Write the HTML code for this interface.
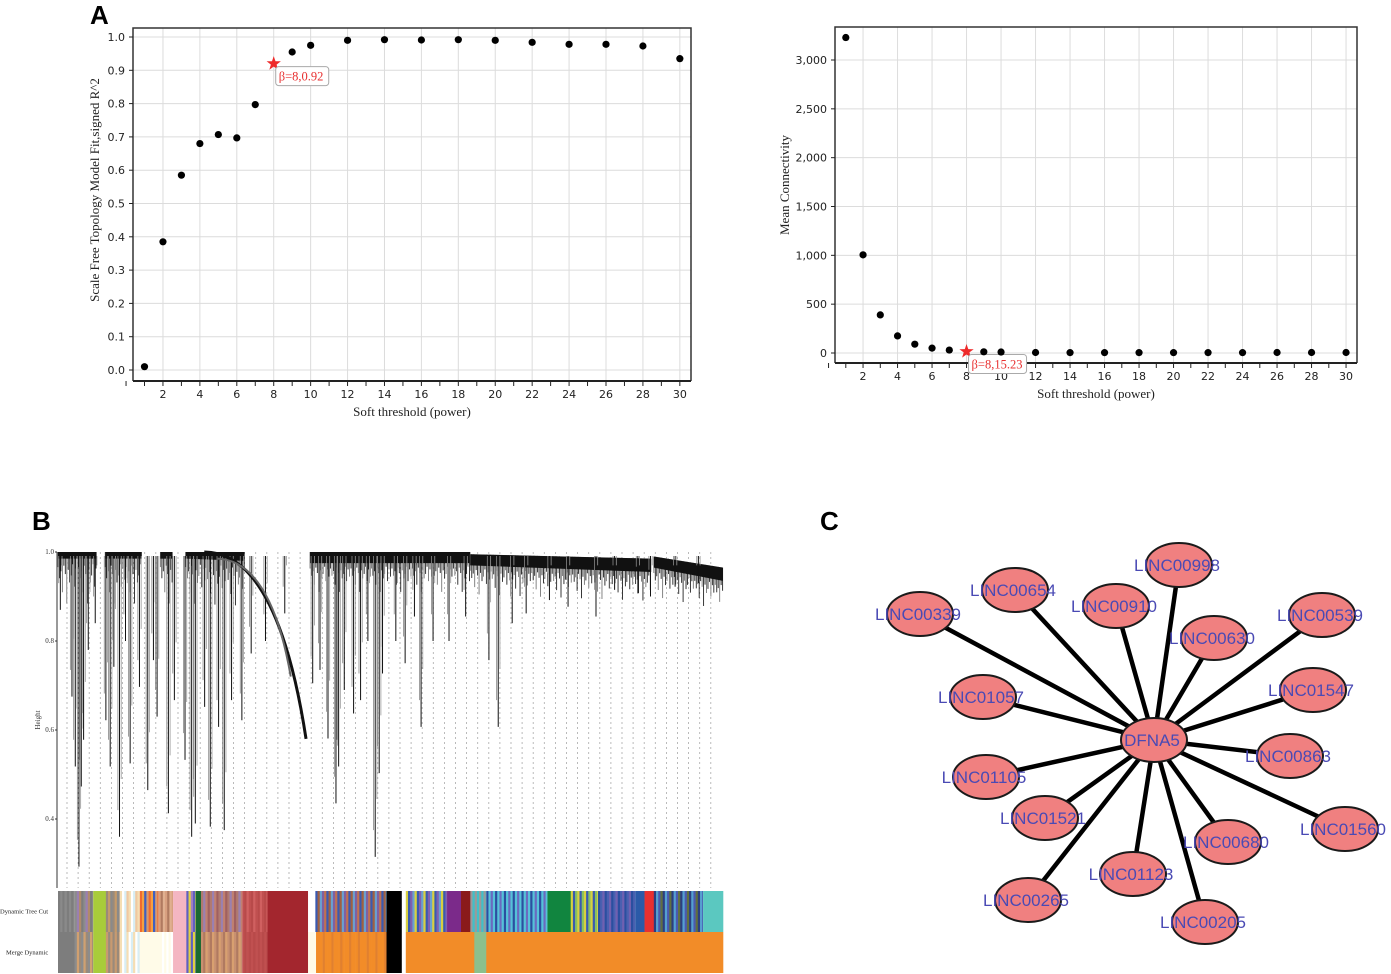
<!DOCTYPE html>
<html><head><meta charset="utf-8"><style>
html,body{margin:0;padding:0;background:#fff;}
svg{display:block;}
.tick{font-family:"DejaVu Sans","Liberation Sans",sans-serif;font-size:11px;fill:#222;}
.ttl{font-family:"Liberation Serif",serif;font-size:13px;fill:#222;}
.plab{font-family:"Liberation Sans",sans-serif;font-size:26px;font-weight:bold;fill:#000;}
.node{font-family:"Liberation Sans",sans-serif;font-size:17px;fill:#4a4ab4;}
</style></head><body>
<svg id="fig" width="1391" height="974" viewBox="0 0 1391 974" xmlns="http://www.w3.org/2000/svg">
<text class="plab" x="90" y="24">A</text>
<text class="plab" x="32" y="530">B</text>
<text class="plab" x="820" y="530">C</text>
</svg>
<script>
const sftPowers=[1,2,3,4,5,6,7,8,9,10,12,14,16,18,20,22,24,26,28,30];
const sftR2=[0.01,0.385,0.585,0.68,0.707,0.697,0.797,0.92,0.955,0.975,0.99,0.992,0.991,0.992,0.99,0.984,0.978,0.978,0.973,0.935];
const connValues=[3230,1005,390,175,90,50,30,15.23,12,10,5,4,4,4,4,4,4,5,5,5];
const xTickVals=[2,4,6,8,10,12,14,16,18,20,22,24,26,28,30];
const r2Ticks=[0,0.1,0.2,0.3,0.4,0.5,0.6,0.7,0.8,0.9,1.0];
const connTicks=[0,500,1000,1500,2000,2500,3000];
const heightTicks=[0.4,0.6,0.8,1.0];
const leafPos=[0.35,2.1,2.6,3.15,3.5,3.85,4.55,5.6,7.2,7.85,8.4,9.25,10.15,10.85,12.25,13.5,14.35,14.9,16.6,17.5,19.1,20.1,20.65,22.05,22.9,24.15,25.0,26.1,27.65,29.05,31.2,34.1,38.3,39.4,40.6,41.8,42.2,43.05,44.45,45.5,46.6,47.7,48.3,48.8,50.8,52.2,53.6,54.6,56.4,58.8,61.3,64.8,66.2,68.3,70.4,73.9,76.7,80.9,83.7,87.2,89.1,92.8,96.3];
const leafHeight=[.87,.675,.518,.293,.473,.578,.78,.84,.622,.518,.742,.36,.80,.525,.697,.465,.757,.63,.413,.667,.533,.36,.39,.652,.383,.607,.375,.667,.622,.772,.80,.862,.705,.735,.581,.435,.518,.69,.637,.667,.80,.315,.503,.727,.80,.75,.855,.607,.80,.80,.855,.757,.607,.84,.862,.892,.877,.855,.915,.907,.9,.922,.93];
const treeCutSegs=[[0,2.5,['#7d7d7d','#8a8a8a']],[2.5,5.3,['#8c8c8c','#9a7fb0','#b08a6a','#7d7d7d']],[5.3,7.2,['#a8cc3a']],[7.2,9.3,['#9a8a7a','#c49a6a','#8a8a8a']],[9.3,12.3,['#f5deb3','#ffffff','#d8eef4','#f0c8a0']],[12.3,15.1,['#f06a30','#f5a040','#4060c0','#d89a70']],[15.1,17.3,['#d8a080','#b07a60','#e0b090']],[17.3,19.3,['#f4b6c2']],[19.3,20.7,['#6060c0','#e0d040','#a080c0']],[20.7,21.5,['#1a6a30']],[21.5,27.7,['#b07a70','#9a80b0','#c08070','#a06060']],[27.7,31.5,['#c05050','#b84a4a','#d06060']],[31.5,37.6,['#a3262e']],[37.6,38.7,['#ffffff']],[38.7,49.4,['#3a5ab0','#a06040','#6aa0d0','#8060a0','#c07050']],[49.4,51.7,['#000000']],[51.7,52.3,['#ffffff']],[52.3,58.5,['#d8d040','#3a5ab0','#8060b0','#6aa0d0']],[58.5,60.6,['#7b2a8a']],[60.6,62.0,['#8a1a1a']],[62.0,64.4,['#9a9a9a','#40c0c8']],[64.4,73.6,['#2b4fa0','#55c2d8','#6a6ac0','#55c2d8']],[73.6,77.1,['#11853f']],[77.1,81.2,['#d8d040','#3a5ab0','#88c060']],[81.2,86.8,['#2b4fa0','#4a60b0','#7060b0']],[86.8,88.2,['#2b5aa8']],[88.2,89.6,['#e83030']],[89.6,97.0,['#2b3f80','#55a0d0','#4a5ab0','#607040']],[97.0,100,['#5bc8c0']]];
const mergeSegs=[[0,2.5,['#7d7d7d']],[2.5,5.3,['#8c8c8c','#d0a070','#9a8a7a']],[5.3,7.2,['#a8cc3a']],[7.2,9.3,['#c89a70','#9a8a7a']],[9.3,12.3,['#f5deb3','#ffffff','#d8eef4']],[12.3,15.3,['#fffbe8']],[15.3,17.3,['#fffbe8','#ffffff']],[17.3,19.3,['#f4b6c2']],[19.3,20.7,['#6060c0','#e0d040']],[20.7,21.5,['#1a6a30']],[21.5,27.7,['#c89070','#b07a60','#d8a070']],[27.7,31.5,['#c05050','#b84a4a']],[31.5,37.6,['#a3262e']],[37.6,38.8,['#fffbe8']],[38.8,49.4,['#f28c28','#f28c28','#f28c28','#e08030']],[49.4,51.7,['#000000']],[51.7,52.3,['#ffffff']],[52.3,62.6,['#f28c28']],[62.6,64.4,['#8cc08c']],[64.4,100,['#f28c28']]];
const nodeNames=['LINC00998','LINC00654','LINC00339','LINC00910','LINC00630','LINC00539','LINC01547','LINC01057','LINC00863','LINC01105','LINC01521','LINC01560','LINC00680','LINC01123','LINC00265','LINC00205'];
const nodeX=[1179,1015,920,1116,1214,1322,1313,983,1290,986,1045,1345,1228,1133,1028,1205];
const nodeY=[565,590,614,606,638,615,690,697,756,777,818,829,842,874,900,922];

const NS='http://www.w3.org/2000/svg';
const svg=document.getElementById('fig');
function mk(tag,attrs,parent){const e=document.createElementNS(NS,tag);for(const k in attrs)e.setAttribute(k,attrs[k]);(parent||svg).appendChild(e);return e;}
function fmt(v){return v.toLocaleString('en-US');}

function scatterPanel(cfg){
  const g=mk('g',{});
  
  
  xTickVals.forEach(v=>{const l=mk('line',{x1:cfg.x(v),x2:cfg.x(v),y1:cfg.top,y2:cfg.bottom,stroke:'#dcdcdc','stroke-width':1},g);
    
    });
  cfg.yTicks.forEach(v=>{const l=mk('line',{x1:cfg.left,x2:cfg.right,y1:cfg.y(v),y2:cfg.y(v),stroke:'#dcdcdc','stroke-width':1},g);
    
    });
  const fr=mk('path',{d:`M${cfg.left},${cfg.bottom}V${cfg.top}H${cfg.right}V${cfg.bottom}`,fill:'none',stroke:'#333','stroke-width':1.5},g);
  
  
  const xa=mk('line',{x1:cfg.left,x2:cfg.right,y1:cfg.bottom,y2:cfg.bottom,stroke:'#222','stroke-width':2},g);
  
  
  for(let v=0;v<=30;v++){const t=mk('line',{x1:cfg.x(v),x2:cfg.x(v),y1:cfg.bottom,y2:cfg.bottom+5,stroke:'#222','stroke-width':1},g);
    
    }
  xTickVals.forEach(v=>{const t=mk('text',{x:cfg.x(v),y:cfg.bottom+17,'text-anchor':'middle',class:'tick'},g);t.textContent=v;
    
    });
  cfg.yTicks.forEach(v=>{const t=mk('text',{x:cfg.left-8,y:cfg.y(v)+4,'text-anchor':'end',class:'tick'},g);t.textContent=cfg.yfmt(v);
    
    
    const tk=mk('line',{x1:cfg.left-4,x2:cfg.left,y1:cfg.y(v),y2:cfg.y(v),stroke:'#222'},g);
    
    });
  const xt=mk('text',{x:(cfg.left+cfg.right)/2,y:cfg.bottom+35,'text-anchor':'middle',class:'ttl'},g);xt.textContent='Soft threshold (power)';
  
  
  const yt=mk('text',{x:0,y:0,'text-anchor':'middle',class:'ttl',transform:`translate(${cfg.ytx},${cfg.yty}) rotate(-90)`},g);yt.textContent=cfg.ytitle;
  
  
  sftPowers.forEach((p,i)=>{
    const cx=cfg.x(p),cy=cfg.y(cfg.vals[i]);
    if(p===8){
      let pts=[];for(let k=0;k<10;k++){const r=k%2?3:7.5,a=-Math.PI/2+k*Math.PI/5;pts.push((cx+r*Math.cos(a)).toFixed(1)+','+(cy+r*Math.sin(a)).toFixed(1));}
      const s=mk('polygon',{points:pts.join(' '),fill:'#ee2a2a'},g);
      
      
      const lb=mk('g',{},g);
      
      
      mk('rect',{x:cx+2,y:cy+3,width:cfg.lw,height:19,rx:3,fill:'#fff',stroke:'#aaa'},lb);
      const t=mk('text',{x:cx+5,y:cy+17,class:'ttl',style:'fill:#e83030;font-size:12.5px'},lb);t.textContent='β=8,'+cfg.vals[i];
    } else {
      const c=mk('circle',{cx:cx,cy:cy,r:3.6,fill:'#000'},g);
      
      
    }
  });
}
scatterPanel({name:'scale-free-fit-chart',vals:sftR2,yTicks:r2Ticks,yfmt:v=>v.toFixed(1),left:133,right:691,top:28,bottom:381,
  x:v=>144.5+(v-1)*18.46,y:v=>370-v*333,ytitle:'Scale Free Topology Model Fit,signed R^2',ytx:99,yty:190,lw:53});
scatterPanel({name:'mean-connectivity-chart',vals:connValues,yTicks:connTicks,yfmt:fmt,left:835,right:1357,top:27,bottom:363,
  x:v=>845.8+(v-1)*17.25,y:v=>353-v*(293/3000),ytitle:'Mean Connectivity',ytx:789,yty:185,lw:58});

// Panel B dendrogram
const bL=58,bR=723,bTop=552;
const bx=p=>bL+p/100*(bR-bL);
const by=h=>bTop+(1-h)*445;
const gb=mk('g',{});


for(let x=67;x<=721;x+=11.1){const l=mk('line',{x1:x,x2:x,y1:552,y2:888,stroke:'#aaa','stroke-width':0.8,'stroke-dasharray':'2,3'},gb);
  
  }
const ax=mk('line',{x1:bL-1,x2:bL-1,y1:by(1.0),y2:888,stroke:'#333'},gb);


heightTicks.forEach(v=>{const t=mk('text',{x:bL-4,y:by(v)+2,'text-anchor':'end',style:'font-family:Liberation Serif,serif;font-size:7px;fill:#333'},gb);t.textContent=v.toFixed(1);
  
  
  const tk=mk('line',{x1:bL-3,x2:bL-1,y1:by(v),y2:by(v),stroke:'#333'},gb);
  
  });
const ht=mk('text',{x:0,y:0,'text-anchor':'middle',transform:'translate(40,720) rotate(-90)',style:'font-family:Liberation Serif,serif;font-size:7px;fill:#333'},gb);ht.textContent='Height';


// cluster top bands: [start,end,topStart,topEnd,bottomStart,bottomEnd]
const bands=[[0,5.8,1,1,0.985,0.985],[7.1,12.6,1,1,0.985,0.985],[15.4,17.2,1,1,0.985,0.985],[19.2,28,1,1,0.985,0.98],[37.9,62,1,1,0.975,0.975],[62,89.2,0.995,0.985,0.97,0.955],[89.6,100,0.99,0.965,0.965,0.935]];
const hairLen=[6,14,9,24,5,11,32,8,17,12,4,20,7,15];
bands.forEach(b=>{
  let k=0;
  for(let p=b[0];p<=b[1];p+=0.22){
    const f=(p-b[0])/(b[1]-b[0]);
    const y0=by(b[2]+(b[3]-b[2])*f), y1=by(b[4]+(b[5]-b[4])*f);
    const l=mk('line',{x1:bx(p),x2:bx(p),y1:y0,y2:y1+hairLen[k%hairLen.length]*(b[0]<37?1.4:0.9),stroke:k%3?'#222':'#777','stroke-width':0.9},gb);k++;
    
    
  }
  const p=mk('path',{d:`M${bx(b[0])},${by(b[2])}L${bx(b[1])},${by(b[3])}L${bx(b[1])},${by(b[5])}L${bx(b[0])},${by(b[4])}Z`,fill:'#111'},gb);
  
  });
leafPos.forEach((p,i)=>{
  const x=bx(p),h=leafHeight[i];
  [[0,h,'#111',1.0],[-1.6,Math.min(0.97,h+0.06),'#888',0.8],[1.7,Math.min(0.97,h+0.13),'#999',0.8]].forEach(s=>{
    const l=mk('line',{x1:x+s[0],x2:x+s[0],y1:by(1.0)+4,y2:by(s[1]),stroke:s[2],'stroke-width':s[3]},gb);
    
    });
});
const arc=mk('path',{d:`M${bx(22)},${by(1)} Q${bx(33)},${by(1.0)} ${bx(37.3)},${by(0.58)}`,fill:'none',stroke:'#111','stroke-width':3},gb);


const arc2=mk('path',{d:`M${bx(24)},${by(0.985)} Q${bx(32)},${by(0.98)} ${bx(35)},${by(0.72)}`,fill:'none',stroke:'#666','stroke-width':2},gb);



function colorBar(segs,y,h,name,label,lx){
  const g=mk('g',{});
  
  
  segs.forEach(s=>{const x0=bx(s[0]),x1=bx(s[1]),cols=s[2];
    if(cols.length===1){const r=mk('rect',{x:x0,y:y,width:x1-x0+0.3,height:h,fill:cols[0]},g);
      
      }
    else{let k=0;for(let x=x0;x<x1;x+=2.2){const r=mk('rect',{x:x,y:y,width:Math.min(2.5,x1-x),height:h,fill:cols[k%cols.length]},g);k++;
      
      }}
  });
  const t=mk('text',{x:lx,y:y+h/2+2,style:'font-family:Liberation Serif,serif;font-size:6.5px;fill:#222'},g);t.textContent=label;
  
  
}
colorBar(treeCutSegs,891,41,'dynamic-tree-cut-bar','Dynamic Tree Cut',0);
colorBar(mergeSegs,932,41,'merge-dynamic-bar','Merge Dynamic',6);

// Panel C network
const hubX=1154,hubY=740;
const gc=mk('g',{});


nodeNames.forEach((n,i)=>{const e=mk('line',{x1:hubX,y1:hubY,x2:nodeX[i],y2:nodeY[i],stroke:'#000','stroke-width':4.5},gc);
  
  });
function node(n,x,y){const g=mk('g',{},gc);
  
  
  mk('ellipse',{cx:x,cy:y,rx:33,ry:22,fill:'#f08080',stroke:'#1a1a1a','stroke-width':2},g);
  const t=mk('text',{x:x-2,y:y+6,'text-anchor':'middle',class:'node'},g);t.textContent=n;}
nodeNames.forEach((n,i)=>node(n,nodeX[i],nodeY[i]));
node('DFNA5',hubX,hubY);
</script>
</body></html>
